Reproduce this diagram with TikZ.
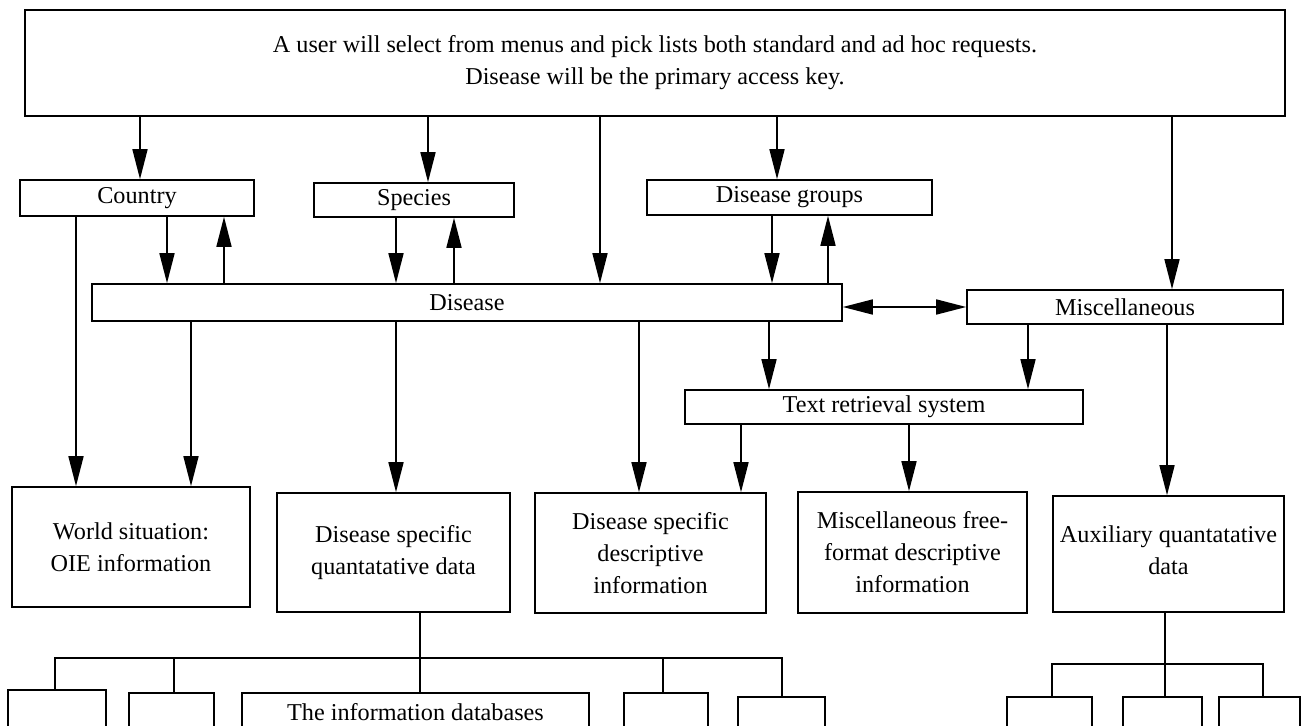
\documentclass[tikz,border=0pt]{standalone}
\usepackage{fontspec}
\setmainfont{Liberation Serif}
\usetikzlibrary{arrows.meta,fit}
\begin{document}
\begin{tikzpicture}[x=0.5pt,y=-0.5pt,
  line width=0.8pt,
  box/.style={draw, inner sep=0pt},
  txt/.style={inner sep=0pt, align=center, font=\fontsize{12.1}{16}\selectfont},
  arr/.style={-{Triangle[length=15pt,width=7.5pt]}},
  dbl/.style={{Triangle[length=15pt,width=7.5pt]}-{Triangle[length=15pt,width=7.5pt]}}]
\clip (0,0) rectangle (1304,726);
% boxes
\node[box, fit={(25,10) (1285,116)}, label={[txt]center:A user will select from menus and pick lists both standard and ad hoc requests.\\Disease will be the primary access key.}] (top) {};
\node[box, fit={(20,180) (254,216)}, label={[txt]center:Country}] (ctry) {};
\node[box, fit={(314,183) (514,217)}, label={[txt]center:Species}] (spec) {};
\node[box, fit={(647,180) (932,215)}, label={[txt]center:Disease groups}] (dgrp) {};
\node[box, fit={(92,284) (842,321)}, label={[txt]center:Disease}] (dis) {};
\node[box, fit={(967,290) (1283,324)}, label={[txt]center:Miscellaneous}] (misc) {};
\node[box, fit={(685,390) (1083,424)}, label={[txt]center:Text retrieval system}] (trs) {};
\node[box, fit={(12,487) (250,607)}, label={[txt]center:World situation:\\OIE information}] (world) {};
\node[box, fit={(277,493) (510,612)}, label={[txt]center:Disease specific\\quantatative data}] (dsq) {};
\node[box, fit={(535,493) (766,613)}, label={[txt]center:Disease specific\\descriptive\\information}] (dsd) {};
\node[box, fit={(798,492) (1027,613)}, label={[txt]center:Miscellaneous free-\\format descriptive\\information}] (mfd) {};
\node[box, fit={(1053,496) (1284,612)}, label={[txt,yshift=2pt]center:Auxiliary quantatative\\data}] (aux) {};
\node[box, fit={(8,690) (106,732)}] (l1) {};
\node[box, fit={(129,693) (214,732)}] (l2) {};
\node[box, fit={(242,693) (589,732)}, label={[txt]center:The information databases}] (info) {};
\node[box, fit={(624,693) (708,732)}] (l4) {};
\node[box, fit={(738,697) (825,732)}] (l5) {};
\node[box, fit={(1007,697) (1092,732)}] (r1) {};
\node[box, fit={(1123,697) (1202,732)}] (r2) {};
\node[box, fit={(1219,697) (1300,732)}] (r3) {};
% x positions
\foreach \n/\v in {a/140,b/428,c/600,d/777,e/1172,f/167,g/224,h/396,i/454,j/772,k/828,
  m/76,n/191,o/639,p/769,q/1028,r/741,s/909,t/1167,u/55,v/174,w/420,y/663,z/782,
  ra/1052,rb/1165,rc/1263}
  \coordinate (x\n) at (\v,0);
\coordinate (yl) at (0,658);
\coordinate (yr) at (0,664);
% arrows from top box
\draw[arr] (top.south -| xa) -- (ctry.north -| xa);
\draw[arr] (top.south -| xb) -- (spec.north -| xb);
\draw[arr] (top.south -| xc) -- (dis.north -| xc);
\draw[arr] (top.south -| xd) -- (dgrp.north -| xd);
\draw[arr] (top.south -| xe) -- (misc.north -| xe);
% selectors <-> disease
\draw[arr] (ctry.south -| xf) -- (dis.north -| xf);
\draw[arr] (dis.north -| xg) -- (ctry.south -| xg);
\draw[arr] (spec.south -| xh) -- (dis.north -| xh);
\draw[arr] (dis.north -| xi) -- (spec.south -| xi);
\draw[arr] (dgrp.south -| xj) -- (dis.north -| xj);
\draw[arr] (dis.north -| xk) -- (dgrp.south -| xk);
\draw[dbl] (misc.west -| dis.east) -- (misc.west);
% to lower boxes
\draw[arr] (ctry.south -| xm) -- (world.north -| xm);
\draw[arr] (dis.south -| xn) -- (world.north -| xn);
\draw[arr] (dis.south -| xh) -- (dsq.north -| xh);
\draw[arr] (dis.south -| xo) -- (dsd.north -| xo);
\draw[arr] (dis.south -| xp) -- (trs.north -| xp);
\draw[arr] (misc.south -| xq) -- (trs.north -| xq);
\draw[arr] (trs.south -| xr) -- (dsd.north -| xr);
\draw[arr] (trs.south -| xs) -- (mfd.north -| xs);
\draw[arr] (misc.south -| xt) -- (aux.north -| xt);
% left tree
\draw (dsq.south -| xw) -- (info.north -| xw);
\draw (l1.north -| xu) -- (xu |- yl) -- (xz |- yl) -- (l5.north -| xz);
\draw (l2.north -| xv) -- (xv |- yl);
\draw (l4.north -| xy) -- (xy |- yl);
% right tree
\draw (aux.south -| xrb) -- (r2.north -| xrb);
\draw (r1.north -| xra) -- (xra |- yr) -- (xrc |- yr) -- (r3.north -| xrc);
\end{tikzpicture}
\end{document}
